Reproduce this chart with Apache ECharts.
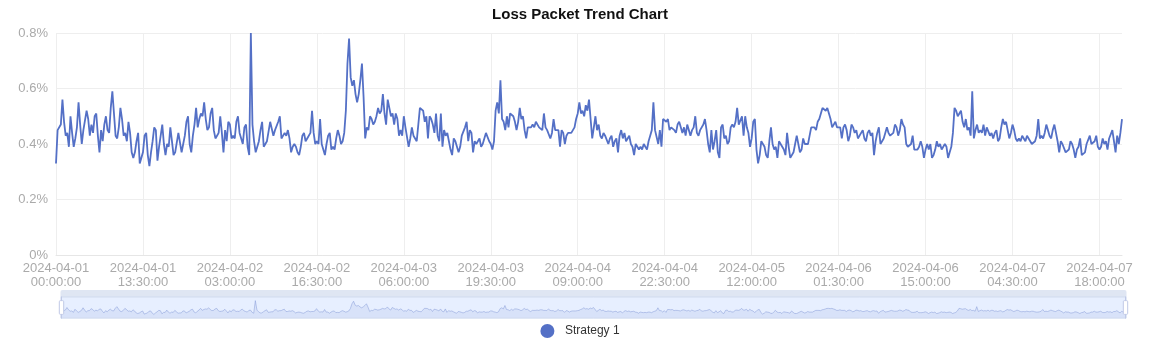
<!DOCTYPE html>
<html>
<head>
<meta charset="utf-8">
<script src="https://cdn.jsdelivr.net/npm/echarts@6/dist/echarts.min.js"></script>
<style>
html,body{margin:0;padding:0;background:#fff;}
#chart{width:1160px;height:342px;}
</style>
</head>
<body>
<div id="chart"></div>
<script>
const chartTitle = 'Loss Packet Trend Chart';
const seriesName = 'Strategy 1';
const startTime = '2024-04-01 00:00:00';
const stepMinutes = 15;
const yTickValues = [0, 0.2, 0.4, 0.6, 0.8];

// loss rate in percent, one value per 15 minutes
const lossRate = [
0.33,0.45,0.45,0.47,0.56,0.48,0.43,0.44,0.39,0.50,
0.44,0.39,0.42,0.46,0.55,0.47,0.40,0.45,0.45,0.52,
0.49,0.43,0.47,0.44,0.50,0.51,0.43,0.37,0.45,0.41,
0.47,0.50,0.45,0.44,0.53,0.59,0.51,0.43,0.42,0.46,
0.53,0.49,0.43,0.44,0.41,0.48,0.44,0.37,0.35,0.37,
0.41,0.44,0.33,0.35,0.37,0.43,0.44,0.36,0.32,0.37,
0.41,0.46,0.45,0.34,0.39,0.39,0.47,0.40,0.36,0.40,
0.39,0.46,0.41,0.36,0.37,0.37,0.44,0.44,0.37,0.40,
0.43,0.48,0.50,0.40,0.37,0.43,0.47,0.53,0.46,0.49,
0.51,0.50,0.55,0.49,0.45,0.46,0.51,0.53,0.45,0.42,
0.43,0.44,0.50,0.44,0.37,0.45,0.41,0.48,0.47,0.42,
0.43,0.42,0.48,0.50,0.44,0.42,0.40,0.46,0.47,0.39,
0.36,0.80,0.47,0.41,0.37,0.37,0.41,0.45,0.48,0.39,
0.40,0.41,0.41,0.48,0.48,0.43,0.45,0.45,0.48,0.50,
0.42,0.42,0.44,0.43,0.45,0.42,0.37,0.39,0.40,0.39,
0.37,0.36,0.39,0.43,0.44,0.41,0.42,0.42,0.44,0.52,
0.44,0.40,0.41,0.40,0.49,0.40,0.40,0.36,0.40,0.43,
0.44,0.38,0.39,0.38,0.42,0.45,0.43,0.40,0.41,0.44,
0.52,0.69,0.78,0.64,0.61,0.63,0.58,0.55,0.58,0.63,
0.69,0.57,0.42,0.46,0.45,0.50,0.49,0.47,0.48,0.50,
0.53,0.51,0.52,0.58,0.51,0.47,0.56,0.53,0.50,0.51,
0.47,0.51,0.49,0.43,0.45,0.43,0.50,0.46,0.46,0.39,
0.42,0.46,0.43,0.42,0.41,0.47,0.53,0.53,0.52,0.48,
0.50,0.42,0.50,0.49,0.47,0.44,0.51,0.43,0.41,0.51,
0.39,0.45,0.43,0.44,0.41,0.38,0.36,0.42,0.41,0.39,
0.37,0.39,0.43,0.43,0.46,0.48,0.41,0.45,0.44,0.37,
0.41,0.40,0.40,0.42,0.39,0.40,0.40,0.44,0.44,0.41,
0.40,0.38,0.41,0.52,0.55,0.51,0.63,0.49,0.48,0.45,
0.50,0.46,0.51,0.51,0.50,0.48,0.45,0.48,0.53,0.49,
0.50,0.45,0.42,0.46,0.46,0.46,0.47,0.46,0.48,0.48,
0.46,0.46,0.45,0.51,0.46,0.45,0.45,0.42,0.44,0.49,
0.45,0.45,0.45,0.39,0.45,0.44,0.40,0.43,0.44,0.44,
0.44,0.45,0.46,0.49,0.51,0.55,0.51,0.52,0.50,0.54,
0.52,0.56,0.49,0.42,0.46,0.50,0.45,0.47,0.43,0.42,
0.44,0.43,0.43,0.40,0.42,0.43,0.39,0.41,0.42,0.37,
0.43,0.45,0.42,0.44,0.41,0.42,0.43,0.40,0.39,0.36,
0.40,0.39,0.38,0.39,0.38,0.40,0.40,0.38,0.41,0.43,
0.45,0.55,0.45,0.45,0.40,0.45,0.39,0.49,0.49,0.48,
0.49,0.45,0.46,0.46,0.45,0.44,0.47,0.48,0.46,0.44,
0.46,0.43,0.47,0.45,0.43,0.45,0.46,0.50,0.44,0.43,
0.45,0.45,0.47,0.49,0.45,0.40,0.37,0.45,0.38,0.41,
0.45,0.37,0.35,0.46,0.47,0.42,0.43,0.40,0.41,0.46,
0.47,0.46,0.48,0.53,0.47,0.47,0.50,0.43,0.50,0.46,
0.44,0.39,0.42,0.48,0.49,0.38,0.33,0.36,0.41,0.40,
0.39,0.36,0.35,0.41,0.46,0.40,0.38,0.39,0.35,0.41,
0.40,0.39,0.38,0.36,0.44,0.39,0.35,0.35,0.37,0.40,
0.43,0.40,0.37,0.38,0.42,0.40,0.40,0.40,0.43,0.46,
0.46,0.46,0.45,0.48,0.49,0.51,0.53,0.53,0.52,0.53,
0.51,0.49,0.46,0.46,0.48,0.46,0.46,0.46,0.42,0.46,
0.47,0.45,0.41,0.43,0.47,0.46,0.44,0.45,0.42,0.42,
0.44,0.45,0.42,0.41,0.44,0.45,0.43,0.44,0.36,0.41,
0.44,0.46,0.40,0.41,0.42,0.44,0.46,0.44,0.43,0.43,
0.44,0.47,0.46,0.43,0.45,0.49,0.47,0.46,0.40,0.39,
0.39,0.40,0.43,0.38,0.38,0.38,0.39,0.41,0.39,0.35,
0.38,0.40,0.38,0.40,0.35,0.36,0.38,0.41,0.39,0.40,
0.38,0.39,0.40,0.39,0.35,0.37,0.39,0.44,0.53,0.52,
0.50,0.51,0.52,0.48,0.46,0.49,0.45,0.46,0.43,0.59,
0.42,0.45,0.47,0.44,0.45,0.44,0.47,0.43,0.46,0.46,
0.43,0.44,0.42,0.44,0.45,0.41,0.42,0.46,0.49,0.47,
0.48,0.45,0.42,0.44,0.47,0.45,0.42,0.41,0.42,0.41,
0.43,0.42,0.41,0.43,0.43,0.41,0.40,0.40,0.41,0.43,
0.49,0.42,0.43,0.42,0.44,0.47,0.45,0.43,0.42,0.45,
0.47,0.44,0.41,0.37,0.41,0.40,0.40,0.37,0.37,0.38,
0.41,0.40,0.38,0.35,0.38,0.39,0.42,0.36,0.36,0.37,
0.40,0.40,0.43,0.40,0.40,0.41,0.43,0.39,0.38,0.39,
0.42,0.40,0.41,0.38,0.42,0.42,0.45,0.41,0.37,0.43,
0.40,0.44,0.49
];

// time categories (15-minute steps from startTime)
function pad(n){ return (n < 10 ? '0' : '') + n; }
const categories = [];
(function(){
  const p = startTime.split(/[- :]/).map(Number);
  const t0 = Date.UTC(p[0], p[1]-1, p[2], p[3], p[4], p[5]);
  for (let i = 0; i < lossRate.length; i++) {
    const d = new Date(t0 + i * stepMinutes * 60000);
    categories.push(d.getUTCFullYear() + '-' + pad(d.getUTCMonth()+1) + '-' + pad(d.getUTCDate()) + ' ' +
      pad(d.getUTCHours()) + ':' + pad(d.getUTCMinutes()) + ':' + pad(d.getUTCSeconds()));
  }
})();

const chart = echarts.init(document.getElementById('chart'), null, {renderer:'canvas'});
const option = {
  animation: false,
  title: {
    text: chartTitle, left: 'center', top: 2,
    textStyle: {fontSize: 15, fontWeight: 'bold', color: '#111'}
  },
  legend: {
    data: [seriesName], top: 319, left: 'center', icon: 'circle', itemWidth: 25, itemHeight: 14,
    textStyle: {color: '#333', fontSize: 12}
  },
  grid: {left: 56, right: 38, top: 33, bottom: 87},
  xAxis: {
    type: 'category', boundaryGap: false, data: categories,
    axisLine: {lineStyle: {color: '#e6e6e6'}},
    axisTick: {show: false, interval: 53},
    axisLabel: {interval: 53, color: '#aaa', fontSize: 13, lineHeight: 14, margin: 6,
      formatter: v => v.replace(' ', '\n')},
    splitLine: {show: true, interval: 53, lineStyle: {color: '#eee'}}
  },
  yAxis: {
    type: 'value', min: yTickValues[0], max: yTickValues[yTickValues.length-1], interval: 0.2,
    axisLine: {show: false}, axisTick: {show: false},
    axisLabel: {formatter: '{value}%', color: '#aaa', fontSize: 13},
    splitLine: {lineStyle: {color: '#eee'}}
  },
  dataZoom: [{
    type: 'slider', start: 0, end: 100, left: 58, right: 36, bottom: 30, height: 22,
    borderColor: '#d2dbee',
    fillerColor: 'rgba(135,175,274,0.2)',
    moveHandleStyle: {color: '#d2dbee', opacity: 0.7},
    moveHandleIcon: 'none',
    showDetail: false
  }],
  series: [{
    name: seriesName, type: 'line', data: lossRate, showSymbol: false,
    lineStyle: {width: 1.8, color: '#5470c6'}, itemStyle: {color: '#5470c6'}
  }]
};
chart.setOption(option);
</script>
</body>
</html>
